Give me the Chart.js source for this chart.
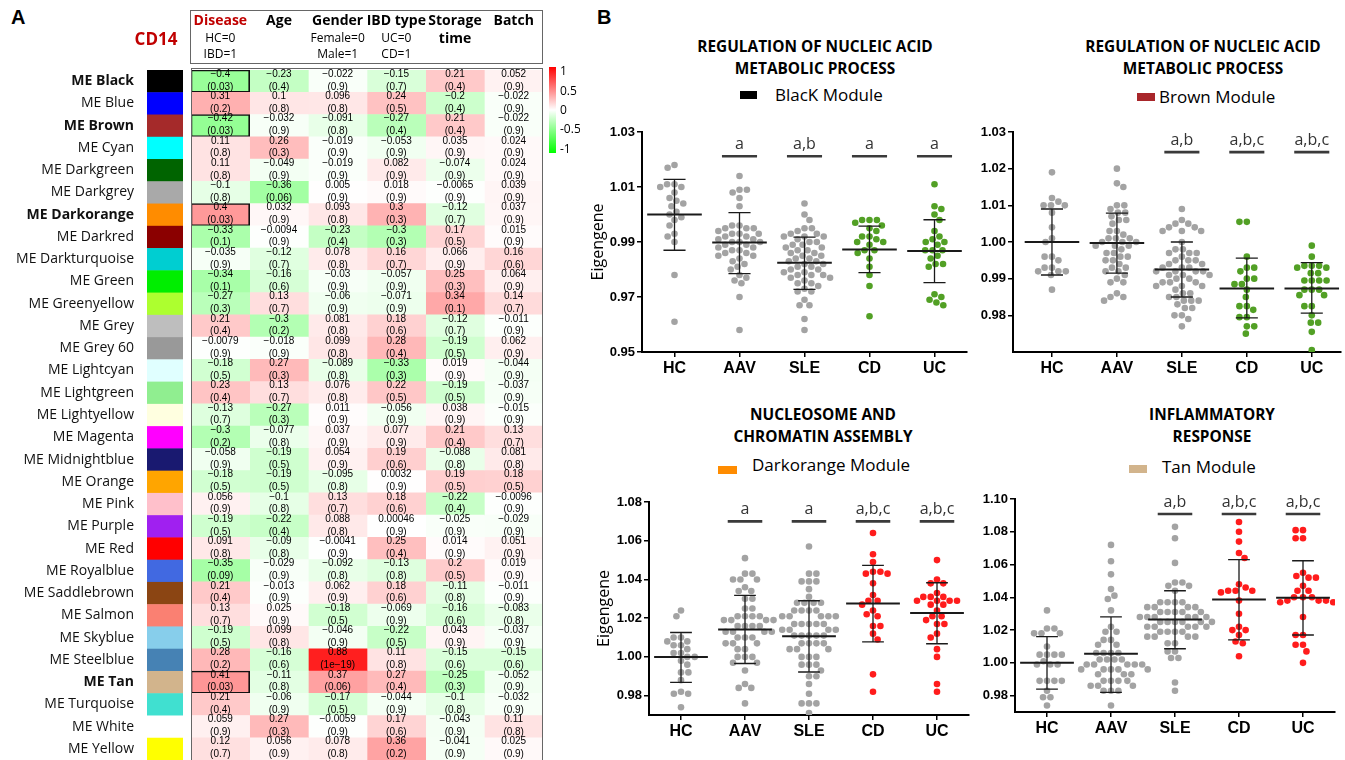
<!DOCTYPE html>
<html>
<head>
<meta charset="utf-8">
<script src="https://cdn.jsdelivr.net/npm/chart.js@4.4.1/dist/chart.umd.min.js"></script>
<style>
  body { margin: 0; width: 1345px; height: 760px; overflow: hidden; background: #fff; position: relative; font-family: 'Open Sans', sans-serif; color: #000; }
  canvas { position: absolute; }
  .panel { position: absolute; font: bold 20px 'Liberation Sans', Arial, sans-serif; }
  .ttl { position: absolute; font-weight: bold; font-size: 15.4px; line-height: 22px; text-align: center; white-space: nowrap; transform: translateX(-50%); }
  .leg { position: absolute; font-size: 17px; line-height: 24px; white-space: nowrap; }
  .sw { position: absolute; }
</style>
</head>
<body>
<div class="panel" style="left:11px;top:6px">A</div>
<div class="panel" style="left:597px;top:6px">B</div>

<div class="ttl" style="left:815px;top:36px">REGULATION OF NUCLEIC ACID<br>METABOLIC PROCESS</div>
<div class="sw" style="left:740px;top:91px;width:17px;height:8px;background:#000"></div>
<div class="leg" style="left:775px;top:83px">BlacK Module</div>

<div class="ttl" style="left:1203px;top:36px">REGULATION OF NUCLEIC ACID<br>METABOLIC PROCESS</div>
<div class="sw" style="left:1137px;top:93px;width:18px;height:8px;background:#a8262a"></div>
<div class="leg" style="left:1159px;top:85px">Brown Module</div>

<div class="ttl" style="left:823px;top:404px">NUCLEOSOME AND<br>CHROMATIN ASSEMBLY</div>
<div class="sw" style="left:718px;top:466px;width:19px;height:8px;background:#ff8c00"></div>
<div class="leg" style="left:752px;top:453px">Darkorange Module</div>

<div class="ttl" style="left:1212px;top:404px">INFLAMMATORY<br>RESPONSE</div>
<div class="sw" style="left:1129px;top:465px;width:18px;height:8px;background:#d2b48c"></div>
<div class="leg" style="left:1162px;top:455px">Tan Module</div>

<canvas id="heat" width="580" height="761" style="left:0;top:0"></canvas>
<canvas id="black" width="390" height="275" style="left:585px;top:105px"></canvas>
<canvas id="brown" width="380" height="275" style="left:965px;top:105px"></canvas>
<canvas id="darkorange" width="384" height="268" style="left:591px;top:475px"></canvas>
<canvas id="tan" width="378" height="268" style="left:967px;top:472px"></canvas>

<script>
// ---------- Panel A: CD14 module / trait correlations ----------
const traitNames = ['Disease', 'Age', 'Gender', 'IBD type', 'Storage', 'Batch']
const modules = ['ME Black', 'ME Blue', 'ME Brown', 'ME Cyan', 'ME Darkgreen', 'ME Darkgrey', 'ME Darkorange',
  'ME Darkred', 'ME Darkturquoise', 'ME Green', 'ME Greenyellow', 'ME Grey', 'ME Grey 60', 'ME Lightcyan',
  'ME Lightgreen', 'ME Lightyellow', 'ME Magenta', 'ME Midnightblue', 'ME Orange', 'ME Pink', 'ME Purple',
  'ME Red', 'ME Royalblue', 'ME Saddlebrown', 'ME Salmon', 'ME Skyblue', 'ME Steelblue', 'ME Tan',
  'ME Turquoise', 'ME White', 'ME Yellow']
const moduleColors = ['#000000', '#0000ff', '#a52a2a', '#00ffff', '#006400', '#a9a9a9', '#ff8c00',
  '#8b0000', '#00ced1', '#00ee00', '#adff2f', '#bebebe', '#999999', '#e0ffff',
  '#90ee90', '#ffffe0', '#ff00ff', '#191970', '#ffa500', '#ffc0cb', '#a020f0',
  '#ff0000', '#4169e1', '#8b4513', '#fa8072', '#87ceeb', '#4682b4', '#d2b48c',
  '#40e0d0', '#ffffff', '#ffff00']
const boldModules = ['ME Black', 'ME Brown', 'ME Darkorange', 'ME Tan']

const diseaseR = [-0.4, 0.31, -0.42, 0.11, 0.11, -0.1, 0.4, -0.33, -0.035, -0.34, -0.27, 0.21, -0.0079, -0.18, 0.23, -0.13, -0.3, -0.058, -0.18, 0.056, -0.19, 0.091, -0.35, 0.21, 0.13, -0.19, 0.28, 0.41, 0.21, 0.059, 0.12]
const diseaseP = ['0.03', '0.2', '0.03', '0.8', '0.8', '0.8', '0.03', '0.1', '0.9', '0.1', '0.3', '0.4', '0.9', '0.5', '0.4', '0.7', '0.2', '0.9', '0.5', '0.9', '0.5', '0.8', '0.09', '0.4', '0.7', '0.5', '0.2', '0.03', '0.4', '0.9', '0.7']
const ageR = [-0.23, 0.1, -0.032, 0.26, -0.049, -0.36, 0.032, -0.0094, -0.12, -0.16, 0.13, -0.3, -0.018, 0.27, 0.13, -0.27, -0.077, -0.19, -0.19, -0.1, -0.22, -0.09, -0.029, -0.013, 0.025, 0.099, -0.16, -0.11, -0.06, 0.27, 0.056]
const ageP = ['0.4', '0.8', '0.9', '0.3', '0.9', '0.06', '0.9', '0.9', '0.7', '0.6', '0.7', '0.2', '0.9', '0.3', '0.7', '0.3', '0.8', '0.5', '0.5', '0.8', '0.4', '0.8', '0.9', '0.9', '0.9', '0.8', '0.6', '0.8', '0.9', '0.3', '0.9']
const genderR = [-0.022, 0.096, -0.091, -0.019, -0.019, 0.005, 0.093, -0.23, 0.078, -0.03, -0.06, 0.081, 0.099, -0.089, 0.076, 0.011, 0.037, 0.054, -0.095, 0.13, 0.088, -0.0041, -0.092, 0.062, -0.18, -0.046, 0.88, 0.37, -0.17, -0.0059, 0.078]
const genderP = ['0.9', '0.8', '0.8', '0.9', '0.9', '0.9', '0.8', '0.4', '0.8', '0.9', '0.9', '0.8', '0.8', '0.8', '0.8', '0.9', '0.9', '0.9', '0.8', '0.7', '0.8', '0.9', '0.8', '0.9', '0.5', '0.9', '1e-19', '0.06', '0.5', '0.9', '0.8']
const ibdR = [-0.15, 0.24, -0.27, -0.053, 0.082, 0.018, 0.3, -0.3, 0.16, -0.057, -0.071, 0.18, 0.28, -0.33, 0.22, -0.056, 0.077, 0.19, 0.0032, 0.18, 0.00046, 0.25, -0.13, 0.18, -0.069, -0.22, 0.11, 0.27, -0.044, 0.17, 0.36]
const ibdP = ['0.7', '0.5', '0.4', '0.9', '0.9', '0.9', '0.3', '0.3', '0.7', '0.9', '0.9', '0.6', '0.4', '0.3', '0.5', '0.9', '0.9', '0.6', '0.9', '0.6', '0.9', '0.4', '0.8', '0.6', '0.9', '0.5', '0.8', '0.4', '0.9', '0.6', '0.2']
const storageR = [0.21, -0.2, 0.21, 0.035, -0.074, -0.0065, -0.12, 0.17, 0.066, 0.25, 0.34, -0.12, -0.19, 0.019, -0.19, 0.038, 0.21, -0.088, 0.19, -0.22, -0.025, 0.014, 0.2, -0.11, -0.16, 0.043, -0.15, -0.25, -0.1, -0.043, -0.041]
const storageP = ['0.4', '0.4', '0.4', '0.9', '0.9', '0.9', '0.7', '0.5', '0.9', '0.3', '0.1', '0.7', '0.5', '0.9', '0.5', '0.9', '0.4', '0.8', '0.5', '0.4', '0.9', '0.9', '0.5', '0.8', '0.6', '0.9', '0.6', '0.3', '0.8', '0.9', '0.9']
const batchR = [0.052, -0.022, -0.022, 0.024, 0.024, 0.039, 0.037, 0.015, 0.16, 0.064, 0.14, -0.011, 0.062, -0.044, -0.037, -0.015, 0.13, 0.081, 0.18, -0.0096, -0.029, 0.051, 0.019, -0.011, -0.083, -0.037, -0.15, -0.052, -0.032, 0.11, 0.025]
const batchP = ['0.9', '0.9', '0.9', '0.9', '0.9', '0.9', '0.9', '0.9', '0.6', '0.9', '0.7', '0.9', '0.9', '0.9', '0.9', '0.9', '0.7', '0.8', '0.5', '0.9', '0.9', '0.9', '0.9', '0.9', '0.8', '0.9', '0.6', '0.9', '0.9', '0.8', '0.9']

const corrCols = [diseaseR, ageR, genderR, ibdR, storageR, batchR]
const pCols = [diseaseP, ageP, genderP, ibdP, storageP, batchP]

// ---------- Panel B: eigengene values per group ----------
const groups = ['HC', 'AAV', 'SLE', 'CD', 'UC']

const blackHC = [1.018, 1.017, 1.011, 1.011, 1.010, 1.010, 1.008, 1.006, 1.005, 1.004, 1.003, 1.001, 1.000, 0.999, 0.998, 0.996, 0.993, 0.992, 0.990, 0.978, 0.961]
const blackAAV = [1.014, 1.009, 1.009, 1.008, 1.006, 1.003, 0.996, 0.996, 0.995, 0.995, 0.995, 0.994, 0.993, 0.993, 0.993, 0.992, 0.992, 0.991, 0.991, 0.990, 0.990, 0.990, 0.989, 0.989, 0.988, 0.988, 0.987, 0.987, 0.986, 0.986, 0.985, 0.985, 0.984, 0.983, 0.982, 0.981, 0.980, 0.978, 0.977, 0.976, 0.975, 0.970, 0.958]
const blackSLE = [1.004, 1.000, 0.998, 0.995, 0.995, 0.994, 0.993, 0.993, 0.992, 0.992, 0.992, 0.991, 0.990, 0.990, 0.989, 0.989, 0.988, 0.988, 0.987, 0.987, 0.986, 0.986, 0.985, 0.985, 0.984, 0.984, 0.983, 0.983, 0.982, 0.982, 0.981, 0.981, 0.980, 0.980, 0.979, 0.979, 0.978, 0.978, 0.978, 0.977, 0.977, 0.976, 0.975, 0.975, 0.974, 0.973, 0.972, 0.972, 0.969, 0.967, 0.967, 0.962, 0.958]
const blackCD = [0.998, 0.998, 0.998, 0.997, 0.996, 0.995, 0.994, 0.992, 0.992, 0.991, 0.990, 0.990, 0.989, 0.987, 0.987, 0.986, 0.984, 0.981, 0.978, 0.974, 0.963]
const blackUC = [1.011, 1.003, 1.002, 1.000, 0.998, 0.994, 0.992, 0.991, 0.990, 0.990, 0.989, 0.987, 0.987, 0.987, 0.985, 0.984, 0.982, 0.982, 0.981, 0.971, 0.970, 0.969, 0.968, 0.967]
const blackMean = [1.000, 0.9898, 0.9825, 0.9873, 0.9867]
const blackHigh = [1.0128, 1.0007, 0.9918, 0.9958, 0.9981]
const blackLow = [0.9870, 0.9785, 0.9728, 0.9789, 0.9752]
const blackLetters = ['', 'a', 'a,b', 'a', 'a']

const brownHC = [1.019, 1.012, 1.011, 1.010, 1.010, 1.010, 1.008, 1.004, 1.001, 1.000, 0.996, 0.996, 0.995, 0.993, 0.993, 0.992, 0.992, 0.992, 0.991, 0.987]
const brownAAV = [1.020, 1.016, 1.015, 1.010, 1.010, 1.009, 1.008, 1.008, 1.007, 1.006, 1.006, 1.005, 1.003, 1.003, 1.002, 1.001, 1.001, 1.001, 1.000, 1.000, 1.000, 0.999, 0.999, 0.999, 0.998, 0.997, 0.997, 0.996, 0.996, 0.995, 0.995, 0.994, 0.993, 0.993, 0.992, 0.992, 0.991, 0.990, 0.989, 0.989, 0.986, 0.985, 0.985, 0.984]
const brownSLE = [1.009, 1.006, 1.005, 1.005, 1.004, 1.004, 1.003, 1.003, 1.003, 1.000, 0.998, 0.998, 0.997, 0.997, 0.997, 0.996, 0.995, 0.995, 0.995, 0.994, 0.994, 0.993, 0.993, 0.993, 0.992, 0.992, 0.992, 0.992, 0.991, 0.991, 0.991, 0.990, 0.990, 0.989, 0.989, 0.989, 0.988, 0.988, 0.988, 0.987, 0.986, 0.986, 0.985, 0.985, 0.984, 0.984, 0.984, 0.983, 0.982, 0.982, 0.980, 0.980, 0.979, 0.977]
const brownCD = [1.0055, 1.0055, 0.996, 0.993, 0.993, 0.992, 0.990, 0.990, 0.9885, 0.9885, 0.987, 0.985, 0.9825, 0.9825, 0.9815, 0.9795, 0.9795, 0.977, 0.977, 0.975]
const brownUC = [0.999, 0.996, 0.9935, 0.9935, 0.9935, 0.993, 0.993, 0.9915, 0.9915, 0.9895, 0.9895, 0.9895, 0.9895, 0.987, 0.987, 0.987, 0.9855, 0.9855, 0.9825, 0.9825, 0.980, 0.978, 0.978, 0.9755, 0.9705]
const brownMean = [1.000, 0.9997, 0.9925, 0.9873, 0.9873]
const brownHigh = [1.009, 1.0079, 1.000, 0.9956, 0.9944]
const brownLow = [0.991, 0.9915, 0.985, 0.9793, 0.9806]
const brownLetters = ['', '', 'a,b', 'a,b,c', 'a,b,c']

const orangeHC = [1.024, 1.021, 1.010, 1.010, 1.008, 1.008, 1.006, 1.006, 1.004, 1.002, 1.002, 1.000, 1.000, 0.998, 0.996, 0.992, 0.992, 0.988, 0.982, 0.981, 0.981, 0.974]
const orangeAAV = [1.051, 1.043, 1.043, 1.040, 1.040, 1.040, 1.036, 1.034, 1.034, 1.030, 1.030, 1.025, 1.025, 1.021, 1.021, 1.021, 1.021, 1.019, 1.019, 1.019, 1.019, 1.016, 1.016, 1.016, 1.016, 1.013, 1.013, 1.013, 1.013, 1.010, 1.010, 1.010, 1.007, 1.007, 1.007, 1.004, 1.004, 1.000, 1.000, 1.000, 0.997, 0.997, 0.993, 0.986, 0.984, 0.984, 0.976]
const orangeSLE = [1.057, 1.043, 1.043, 1.039, 1.039, 1.039, 1.035, 1.031, 1.028, 1.028, 1.028, 1.028, 1.024, 1.024, 1.024, 1.024, 1.021, 1.021, 1.021, 1.021, 1.021, 1.017, 1.017, 1.017, 1.017, 1.017, 1.014, 1.014, 1.014, 1.014, 1.011, 1.011, 1.011, 1.011, 1.011, 1.007, 1.007, 1.007, 1.007, 1.004, 1.004, 1.004, 1.000, 1.000, 1.000, 0.996, 0.996, 0.996, 0.993, 0.990, 0.990, 0.986, 0.981, 0.976, 0.976, 0.976, 0.971]
const orangeCD = [1.064, 1.053, 1.049, 1.044, 1.044, 1.043, 1.043, 1.038, 1.032, 1.029, 1.029, 1.027, 1.024, 1.022, 1.021, 1.016, 1.016, 1.012, 1.009, 0.991, 0.982]
const orangeUC = [1.050, 1.040, 1.038, 1.038, 1.033, 1.031, 1.031, 1.031, 1.029, 1.029, 1.029, 1.029, 1.027, 1.027, 1.024, 1.021, 1.021, 1.019, 1.017, 1.017, 1.012, 1.010, 1.004, 1.000, 0.986, 0.982]
const orangeMean = [1.000, 1.0141, 1.0107, 1.0276, 1.0227]
const orangeHigh = [1.0126, 1.0318, 1.029, 1.0473, 1.0383]
const orangeLow = [0.9868, 0.9966, 0.9922, 1.0078, 1.0068]
const orangeLetters = ['', 'a', 'a', 'a,b,c', 'a,b,c']

const tanHC = [1.032, 1.021, 1.021, 1.018, 1.018, 1.018, 1.010, 1.005, 1.005, 1.005, 1.005, 1.001, 0.999, 0.999, 0.999, 0.989, 0.989, 0.989, 0.989, 0.983, 0.979, 0.979, 0.974]
const tanAAV = [1.072, 1.062, 1.054, 1.045, 1.041, 1.039, 1.032, 1.022, 1.019, 1.019, 1.014, 1.014, 1.011, 1.011, 1.006, 1.006, 1.006, 1.006, 1.002, 1.002, 1.002, 1.002, 0.999, 0.999, 0.999, 0.999, 0.999, 0.996, 0.996, 0.996, 0.996, 0.996, 0.993, 0.993, 0.993, 0.989, 0.989, 0.989, 0.989, 0.986, 0.986, 0.986, 0.983, 0.983, 0.983, 0.974]
const tanSLE = [1.083, 1.076, 1.061, 1.049, 1.049, 1.047, 1.047, 1.044, 1.037, 1.037, 1.037, 1.037, 1.034, 1.034, 1.034, 1.034, 1.031, 1.031, 1.031, 1.031, 1.031, 1.028, 1.028, 1.028, 1.028, 1.028, 1.028, 1.025, 1.025, 1.025, 1.025, 1.025, 1.025, 1.022, 1.022, 1.022, 1.022, 1.022, 1.019, 1.019, 1.019, 1.019, 1.016, 1.016, 1.016, 1.016, 1.012, 1.012, 1.007, 1.007, 1.003, 1.003, 0.988, 0.983]
const tanCD = [1.086, 1.080, 1.074, 1.067, 1.064, 1.048, 1.046, 1.044, 1.044, 1.044, 1.043, 1.038, 1.030, 1.022, 1.020, 1.020, 1.017, 1.013, 1.012, 1.004]
const tanUC = [1.081, 1.081, 1.076, 1.076, 1.055, 1.053, 1.052, 1.052, 1.047, 1.044, 1.044, 1.040, 1.040, 1.040, 1.038, 1.038, 1.038, 1.037, 1.037, 1.028, 1.017, 1.017, 1.011, 1.011, 1.007, 1.000]
const tanMean = [1.000, 1.0055, 1.0264, 1.0386, 1.0398]
const tanHigh = [1.016, 1.028, 1.044, 1.063, 1.0623]
const tanLow = [0.984, 0.982, 1.0086, 1.014, 1.017]
const tanLetters = ['', '', 'a,b', 'a,b,c', 'a,b,c']

// ---------- helpers ----------
const GREY = '#a3a3a3'
const GREEN = '#52a025'
const RED = '#ff1c1c'

function heatColor(v) {
  const c = Math.round(255 * (1 - Math.min(1, Math.abs(v))))
  return v >= 0 ? `rgb(255,${c},${c})` : `rgb(${c},255,${c})`
}

function fmt(v) {
  return (v < 0 ? '\u2212' : '') + String(Math.abs(v))
}

// ---------- Panel A heatmap ----------
const heatPlugin = {
  id: 'heatPlugin',
  afterDatasetsDraw(chart) {
    const { ctx, chartArea: a, scales: { x, y } } = chart
    const h = y.getPixelForValue(1) - y.getPixelForValue(0)
    ctx.save()

    // row colour swatches
    moduleColors.forEach((c, i) => {
      ctx.fillStyle = c
      ctx.fillRect(a.left - 44, y.getPixelForValue(i) - h / 2, 36, h + 0.5)
    })

    // cell texts
    ctx.fillStyle = '#000'
    ctx.textAlign = 'center'
    ctx.textBaseline = 'middle'
    ctx.font = '10px "Liberation Sans", Arial, sans-serif'
    corrCols.forEach((col, j) => {
      const cx = x.getPixelForValue(j + 0.5)
      col.forEach((v, i) => {
        const top = y.getPixelForValue(i) - h / 2
        ctx.fillText(fmt(v), cx, top + 4)
        ctx.fillText('(' + pCols[j][i].replace('-', '\u2212') + ')', cx, top + h - 5.5)
      })
    })

    // frame
    ctx.strokeStyle = '#666'
    ctx.lineWidth = 1
    ctx.strokeRect(a.left + 0.5, a.top - 1.5, a.width - 1, a.height + 2)

    // header box
    ctx.strokeRect(a.left - 0.5, 10.5, a.width, 53)
    const cxs = traitNames.map((t, j) => x.getPixelForValue(j + 0.5))
    ctx.font = 'bold 14px "Open Sans", sans-serif'
    traitNames.forEach((t, j) => {
      ctx.fillStyle = j === 0 ? '#c00000' : '#000'
      ctx.fillText(t, cxs[j], 21)
    })
    ctx.fillStyle = '#000'
    ctx.fillText('time', cxs[4], 39)
    ctx.font = '12px "Open Sans", sans-serif'
    ctx.fillText('HC=0', cxs[0], 39)
    ctx.fillText('IBD=1', cxs[0], 55)
    ctx.fillText('Female=0', cxs[2], 39)
    ctx.fillText('Male=1', cxs[2], 55)
    ctx.fillText('UC=0', cxs[3], 39)
    ctx.fillText('CD=1', cxs[3], 55)
    ctx.fillStyle = '#c00000'
    ctx.font = 'bold 17px "Open Sans", sans-serif'
    ctx.fillText('CD14', 156, 40)

    // colour key
    const bx = a.right + 6, top = 67, bottom = 153
    const g = ctx.createLinearGradient(0, top, 0, bottom)
    g.addColorStop(0, '#ff0000')
    g.addColorStop(0.5, '#ffffff')
    g.addColorStop(1, '#00ff00')
    ctx.fillStyle = g
    ctx.fillRect(bx, top, 7, bottom - top)
    ctx.fillStyle = '#000'
    ctx.textAlign = 'left'
    ctx.font = '12px "Open Sans", sans-serif'
    ;['1', '0.5', '0', '-0.5', '-1'].forEach((t, k) => {
      ctx.fillText(t, bx + 11, 72 + k * 19.3)
    })
    ctx.restore()
  }
}

new Chart(document.getElementById('heat'), {
  type: 'bar',
  data: {
    labels: modules,
    datasets: corrCols.map((col, j) => ({
      label: traitNames[j],
      data: modules.map(() => [j, j + 1]),
      backgroundColor: col.map(heatColor),
      borderColor: col.map((v, i) => (j === 0 && parseFloat(pCols[j][i]) < 0.05) ? '#111' : 'rgba(0,0,0,0)'),
      borderWidth: col.map((v, i) => (j === 0 && parseFloat(pCols[j][i]) < 0.05) ? 1.6 : 0),
      borderSkipped: false,
      barPercentage: 1,
      categoryPercentage: 1,
      grouped: false
    }))
  },
  options: {
    indexAxis: 'y',
    responsive: false,
    animation: false,
    layout: { padding: { top: 70, right: 37, bottom: 1, left: 0 } },
    plugins: { legend: { display: false }, tooltip: { enabled: false } },
    scales: {
      x: { type: 'linear', min: 0, max: 6, display: false },
      y: {
        type: 'category',
        grid: { display: false, drawTicks: false },
        border: { display: false },
        // the big label padding must not eat the top/bottom of the plot
        afterFit: (s) => { s.width = 191; s.paddingTop = 0; s.paddingBottom = 0 },
        ticks: {
          autoSkip: false,
          padding: 57,
          color: '#111',
          font: (c) => ({ family: 'Open Sans', size: 14, weight: boldModules.includes(modules[c.index]) ? 'bold' : 'normal' })
        }
      }
    }
  },
  plugins: [heatPlugin]
})

// ---------- Panel B swarm plots ----------
const lettersPlugin = {
  id: 'letters',
  afterDatasetsDraw(chart, args, opts) {
    const { ctx, scales: { x, y } } = chart
    ctx.save()
    ctx.font = '16px "Open Sans", sans-serif'
    ctx.fillStyle = '#333'
    ctx.textAlign = 'center'
    ctx.textBaseline = 'alphabetic'
    opts.letters.forEach((t, g) => {
      if (t) ctx.fillText(t, x.getPixelForValue(g), y.getPixelForValue(opts.sigY) - 7)
    })
    ctx.restore()
  }
}

function segments(list) {
  const out = []
  list.forEach(([x0, x1, y0, y1]) => {
    out.push({ x: x0, y: y0 }, { x: x1, y: y1 }, { x: x1, y: null })
  })
  return out
}

function swarmChart(id, cfg) {
  const { values, colors, mean, high, low, letters, sigY, yMin, yMax, yTicks, xMin, xMax, yWidth, padRight, yTitle } = cfg

  const meanSegs = segments(mean.map((m, g) => [g - 0.42, g + 0.42, m, m]))
  const sdSegs = segments([].concat(...mean.map((m, g) => [
    [g, g, low[g], high[g]],
    [g - 0.17, g + 0.17, high[g], high[g]],
    [g - 0.17, g + 0.17, low[g], low[g]]
  ])))
  const sigSegs = segments(letters.map((t, g) => t ? [g - 0.27, g + 0.27, sigY, sigY] : null).filter(Boolean))

  const lineStyle = { type: 'line', pointRadius: 0, fill: false, spanGaps: false, order: 0 }
  const datasets = [
    { ...lineStyle, data: meanSegs, borderColor: '#1a1a1a', borderWidth: 2 },
    { ...lineStyle, data: sdSegs, borderColor: '#1a1a1a', borderWidth: 1.3 },
    { ...lineStyle, data: sigSegs, borderColor: '#3a3a3a', borderWidth: 2.6 }
  ]
  values.forEach((vals, g) => {
    datasets.push({
      type: 'scatter',
      data: vals.map(v => ({ x: g, y: v })),
      backgroundColor: colors[g],
      borderWidth: 0,
      pointRadius: 3.3,
      order: 1
    })
  })

  const chart = new Chart(document.getElementById(id), {
    type: 'scatter',
    data: { datasets },
    options: {
      responsive: false,
      animation: false,
      layout: { padding: { top: 27, right: padRight, bottom: 0, left: 0 } },
      plugins: { legend: { display: false }, tooltip: { enabled: false }, letters: { letters, sigY } },
      scales: {
        x: {
          type: 'linear', min: xMin, max: xMax,
          afterBuildTicks: (s) => { s.ticks = groups.map((g, i) => ({ value: i })) },
          afterFit: (s) => { s.height = 28 },
          ticks: {
            autoSkip: false, maxRotation: 0, padding: 2, color: '#000',
            font: { family: '"Liberation Sans", Arial', size: 16, weight: 'bold' },
            callback: (v, i) => groups[i]
          },
          grid: { drawOnChartArea: false, drawTicks: true, tickLength: 5, color: '#000', lineWidth: 1.5 },
          border: { color: '#000', width: 2 }
        },
        y: {
          min: yMin, max: yMax,
          afterBuildTicks: (s) => { s.ticks = yTicks.map(v => ({ value: v })) },
          afterFit: (s) => { s.width = yWidth },
          ticks: {
            padding: 2, color: '#000',
            font: { family: '"Liberation Sans", Arial', size: 13, weight: 'bold' },
            callback: (v) => Number(v).toFixed(2)
          },
          grid: { drawOnChartArea: false, drawTicks: true, tickLength: 5, color: '#000', lineWidth: 1.5 },
          border: { color: '#000', width: 2 },
          title: { display: !!yTitle, text: 'Eigengene', color: '#000', font: { family: 'Open Sans', size: 16 }, padding: { top: 4, bottom: 0 } }
        }
      }
    },
    plugins: [lettersPlugin]
  })

  // beeswarm offsets, worked out in pixels from the real scales
  const xs = chart.scales.x, ys = chart.scales.y
  const unit = xs.getPixelForValue(1) - xs.getPixelForValue(0)
  const D = 7.4
  values.forEach((vals, g) => {
    const idx = vals.map((v, i) => i).sort((a, b) => vals[b] - vals[a])
    const placed = []
    const out = []
    idx.forEach(i => {
      const py = ys.getPixelForValue(vals[i])
      const near = placed.filter(p => Math.abs(p.y - py) < D)
      const cands = [0]
      near.forEach(p => {
        const w = Math.sqrt(D * D - (p.y - py) ** 2)
        cands.push(p.x + w, p.x - w)
      })
      const flip = placed.length % 2 ? 1 : -1
      cands.sort((a, b) => Math.abs(a) - Math.abs(b) || flip * (a - b))
      const px = cands.find(c => near.every(p => (p.x - c) ** 2 + (p.y - py) ** 2 >= D * D - 0.01))
      placed.push({ x: px, y: py })
      out[i] = { x: g + px / unit, y: vals[i] }
    })
    chart.data.datasets[3 + g].data = out
  })
  chart.update('none')
  return chart
}

swarmChart('black', {
  values: [blackHC, blackAAV, blackSLE, blackCD, blackUC],
  colors: [GREY, GREY, GREY, GREEN, GREEN],
  mean: blackMean, high: blackHigh, low: blackLow, letters: blackLetters, sigY: 1.0212,
  yMin: 0.95, yMax: 1.03, yTicks: [0.95, 0.97, 0.99, 1.01, 1.03],
  xMin: -0.5, xMax: 4.5, yWidth: 57, padRight: 8, yTitle: true
})

swarmChart('brown', {
  values: [brownHC, brownAAV, brownSLE, brownCD, brownUC],
  colors: [GREY, GREY, GREY, GREEN, GREEN],
  mean: brownMean, high: brownHigh, low: brownLow, letters: brownLetters, sigY: 1.0245,
  yMin: 0.97, yMax: 1.03, yTicks: [0.98, 0.99, 1.00, 1.01, 1.02, 1.03],
  xMin: -0.6, xMax: 4.45, yWidth: 48, padRight: 2, yTitle: false
})

swarmChart('darkorange', {
  values: [orangeHC, orangeAAV, orangeSLE, orangeCD, orangeUC],
  colors: [GREY, GREY, GREY, RED, RED],
  mean: orangeMean, high: orangeHigh, low: orangeLow, letters: orangeLetters, sigY: 1.070,
  yMin: 0.97, yMax: 1.08, yTicks: [0.98, 1.00, 1.02, 1.04, 1.06, 1.08],
  xMin: -0.5, xMax: 4.5, yWidth: 58, padRight: 6, yTitle: true
})

swarmChart('tan', {
  values: [tanHC, tanAAV, tanSLE, tanCD, tanUC],
  colors: [GREY, GREY, GREY, RED, RED],
  mean: tanMean, high: tanHigh, low: tanLow, letters: tanLetters, sigY: 1.0908,
  yMin: 0.97, yMax: 1.10, yTicks: [0.98, 1.00, 1.02, 1.04, 1.06, 1.08, 1.10],
  xMin: -0.5, xMax: 4.5, yWidth: 48, padRight: 10, yTitle: false
})
</script>
</body>
</html>
